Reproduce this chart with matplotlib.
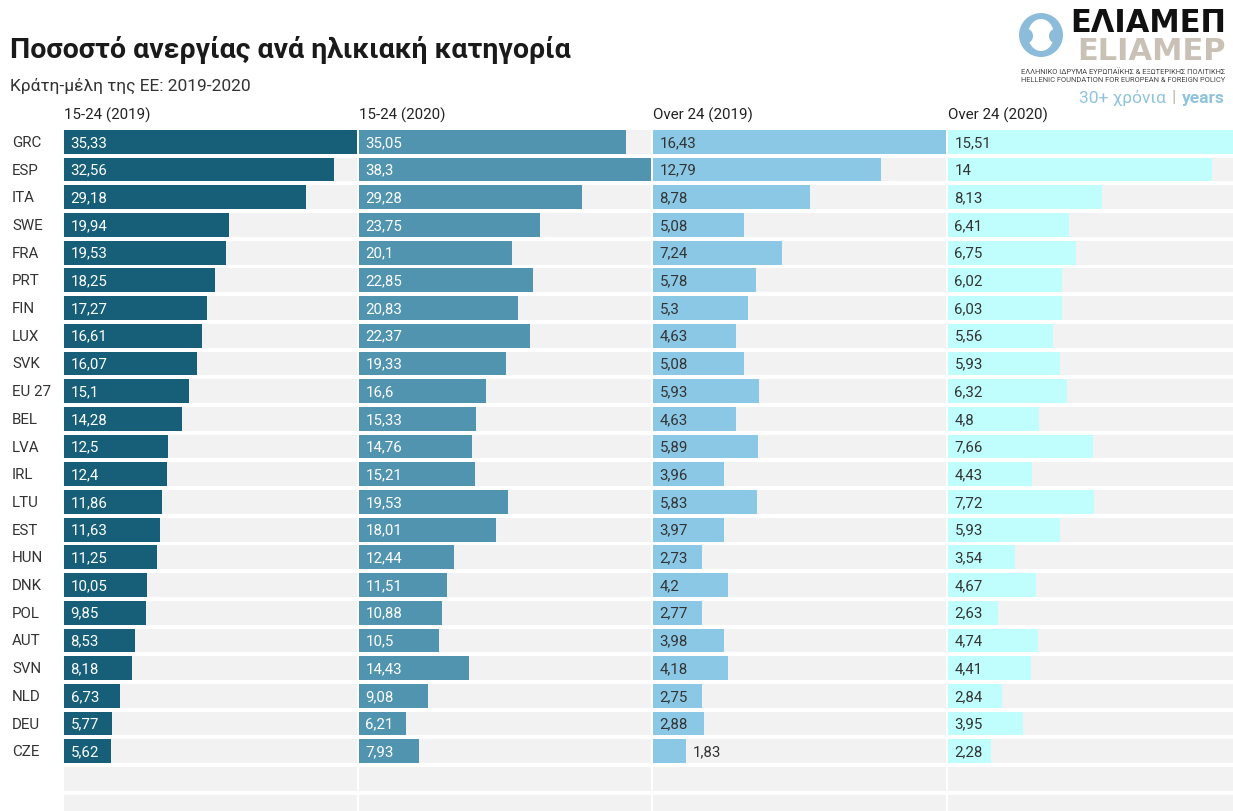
import matplotlib
matplotlib.use("Agg")
import matplotlib.pyplot as plt
from matplotlib.patches import Circle, Ellipse

plt.rcParams["font.family"] = ["Roboto", "DejaVu Sans"]

# ---- data -------------------------------------------------------------
countries = ["GRC", "ESP", "ITA", "SWE", "FRA", "PRT", "FIN", "LUX", "SVK",
             "EU 27", "BEL", "LVA", "IRL", "LTU", "EST", "HUN", "DNK", "POL",
             "AUT", "SVN", "NLD", "DEU", "CZE"]
youth_2019 = [35.33, 32.56, 29.18, 19.94, 19.53, 18.25, 17.27, 16.61, 16.07,
              15.1, 14.28, 12.5, 12.4, 11.86, 11.63, 11.25, 10.05, 9.85,
              8.53, 8.18, 6.73, 5.77, 5.62]
youth_2020 = [35.05, 38.3, 29.28, 23.75, 20.1, 22.85, 20.83, 22.37, 19.33,
              16.6, 15.33, 14.76, 15.21, 19.53, 18.01, 12.44, 11.51, 10.88,
              10.5, 14.43, 9.08, 6.21, 7.93]
over24_2019 = [16.43, 12.79, 8.78, 5.08, 7.24, 5.78, 5.3, 4.63, 5.08,
               5.93, 4.63, 5.89, 3.96, 5.83, 3.97, 2.73, 4.2, 2.77,
               3.98, 4.18, 2.75, 2.88, 1.83]
over24_2020 = [15.51, 14, 8.13, 6.41, 6.75, 6.02, 6.03, 5.56, 5.93,
               6.32, 4.8, 7.66, 4.43, 7.72, 5.93, 3.54, 4.67, 2.63,
               4.74, 4.41, 2.84, 3.95, 2.28]
panel_titles = ["15-24 (2019)", "15-24 (2020)", "Over 24 (2019)", "Over 24 (2020)"]
series = [youth_2019, youth_2020, over24_2019, over24_2020]

title = "Ποσοστό ανεργίας ανά ηλικιακή κατηγορία"
subtitle = "Κράτη-μέλη της ΕΕ: 2019-2020"

# ---- styling ----------------------------------------------------------
W, H = 1233, 812
bar_colors = ["#175f79", "#5194b0", "#8bc8e5", "#c0fefe"]
label_colors = ["white", "white", "#333333", "#333333"]
track_color = "#f2f2f2"
panel_left = [64, 359, 653, 948]
panel_width = [293, 292, 293, 293]
row_top = 129.0      # pixel y of the top of the first row
row_pitch = 27.7     # pixel distance between rows
n_rows = 25          # 23 countries + empty rows at the bottom
bar_h = 0.86

fig = plt.figure(figsize=(W / 100, H / 100), dpi=100)
fig.patch.set_facecolor("white")


def fx(x):
    return x / W


def fy(y):
    return 1 - y / H


visible_rows = (H - row_top) / row_pitch
rows = list(range(n_rows))

for k, vals in enumerate(series):
    ax = fig.add_axes([fx(panel_left[k]), 0, panel_width[k] / W, 1 - row_top / H])
    vmax = max(vals)
    ax.set_xlim(0, vmax)
    ax.set_ylim(visible_rows - 0.5, -0.5)
    ax.axis("off")
    ax.barh(rows, [vmax] * n_rows, height=bar_h, color=track_color, lw=0)
    ax.barh(range(len(vals)), vals, height=bar_h, color=bar_colors[k], lw=0)
    px_per_unit = panel_width[k] / vmax
    for i, v in enumerate(vals):
        txt = f"{v:g}".replace(".", ",")
        if v * px_per_unit < 40:
            ax.text(v + 7 / px_per_unit, i, txt, va="center", ha="left",
                    fontsize=10.8, color="#333333")
        else:
            ax.text(6.5 / px_per_unit, i, txt, va="center", ha="left",
                    fontsize=10.8, color=label_colors[k])
    fig.text(fx(panel_left[k]), fy(115), panel_titles[k], ha="left", va="center",
             fontsize=10.9, color="#222222")

# row labels
for i, c in enumerate(countries):
    fig.text(fx(12), fy(row_top + row_pitch * (i + 0.5)), c, ha="left",
             va="center", fontsize=10.9, color="#333333")

# title & subtitle
fig.text(fx(10), fy(50), title, ha="left", va="center", fontsize=20.5,
         fontweight="bold", color="#1a1a1a")
fig.text(fx(10), fy(86), subtitle, ha="left", va="center", fontsize=12.5,
         color="#333333")

# ---- ELIAMEP logo ----------------------------------------------------
logo_ax = fig.add_axes([0, 0, 1, 1], zorder=5)
logo_ax.set_xlim(0, W)
logo_ax.set_ylim(H, 0)
logo_ax.axis("off")
blue = "#8dbcda"
logo_ax.add_patch(Circle((1041, 36), 22, color=blue, lw=0))
logo_ax.add_patch(Ellipse((1041, 36), 26, 32, color="white", lw=0))
logo_ax.add_patch(Ellipse((1027, 37), 12, 14, color=blue, lw=0))
logo_ax.add_patch(Ellipse((1055, 37), 12, 14, color=blue, lw=0))
logo_ax.set_aspect("auto")

fig.text(fx(1226), fy(23), "ΕΛΙΑΜΕΠ", ha="right", va="center", fontsize=22,
         fontweight="bold", family="DejaVu Sans", color="#111111")
fig.text(fx(1226), fy(51), "ELIAMEP", ha="right", va="center", fontsize=22,
         fontweight="bold", family="DejaVu Sans", color="#c9c1b6")
fig.text(fx(1225), fy(72.5), "ΕΛΛΗΝΙΚΟ ΙΔΡΥΜΑ ΕΥΡΩΠΑΪΚΗΣ & ΕΞΩΤΕΡΙΚΗΣ ΠΟΛΙΤΙΚΗΣ",
         ha="right", va="center", fontsize=5.4, color="#444444")
fig.text(fx(1225), fy(81), "HELLENIC FOUNDATION FOR EUROPEAN & FOREIGN POLICY",
         ha="right", va="center", fontsize=5.4, color="#444444")
fig.text(fx(1225), fy(98), "years", ha="right", va="center", fontsize=12.5,
         fontweight="bold", color="#8fc3dc")
fig.text(fx(1174), fy(98), "|", ha="center", va="center", fontsize=12.5,
         fontweight="bold", color="#c9c1b6")
fig.text(fx(1166), fy(98), "30+ χρόνια", ha="right", va="center", fontsize=12.5,
         color="#8fc3dc")

fig.savefig("out.png", dpi=100, facecolor="white")
